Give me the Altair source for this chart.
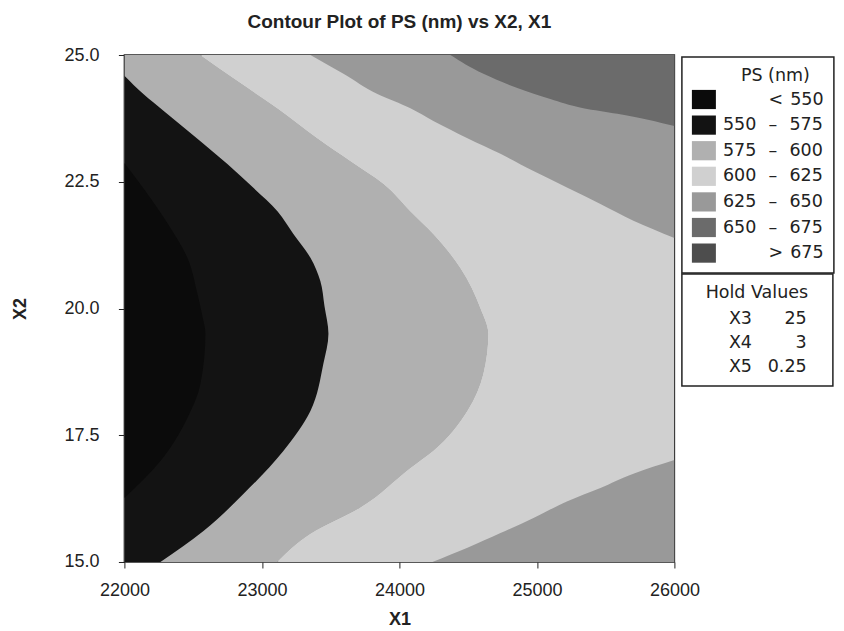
import altair as alt
import pandas as pd

# ---- contour boundaries: X1 position of each contour line at a given X2
b550_x2 = [16.26, 16.99, 17.84, 18.51, 19.50, 19.85, 20.29, 21.00, 21.59, 22.18, 22.87]
b550_x1 = [22000, 22262, 22458, 22553, 22589, 22567, 22531, 22458, 22335, 22189, 22000]

b575_x2 = [15.00, 15.61, 16.34, 17.19, 17.98, 18.91, 19.50, 20.05, 20.54, 21.00, 21.47,
           21.92, 22.38, 22.85, 23.30, 23.90, 24.23, 24.59]
b575_x1 = [22262, 22575, 22865, 23156, 23353, 23447, 23484, 23455, 23425, 23353, 23229,
           23113, 22938, 22749, 22553, 22284, 22138, 22000]

b600_x2 = [15.00, 15.55, 16.07, 16.85, 17.19, 17.98, 18.71, 19.50, 20.01, 20.80, 21.47,
           21.92, 22.46, 22.91, 23.36, 23.95, 24.49, 25.00]
b600_x1 = [23113, 23353, 23716, 24080, 24247, 24495, 24611, 24647, 24589, 24444, 24247,
           24080, 23884, 23644, 23404, 23113, 22822, 22553]

b625top_x2 = [21.39, 21.73, 22.06, 22.38, 22.71, 23.05, 23.36, 23.70, 23.95, 24.23, 24.63, 25.00]
b625top_x1 = [26000, 25702, 25462, 25222, 24975, 24735, 24495, 24247, 24080, 23840, 23593, 23353]

b650_x2 = [23.60, 23.84, 23.95, 24.13, 24.35, 24.63, 25.00]
b650_x1 = [26000, 25585, 25338, 25098, 24858, 24611, 24371]

b625bot_x2 = [15.00, 15.28, 15.57, 15.87, 16.20, 16.46, 16.74, 17.01]
b625bot_x1 = [24240, 24495, 24735, 24975, 25222, 25462, 25702, 26000]

# ---- legend content
cuts = [550, 575, 600, 625, 650, 675]
grays = ["#0b0b0b", "#131313", "#b0b0b0", "#d0d0d0", "#999999", "#6b6b6b", "#4d4d4d"]

hold_names = ["X3", "X4", "X5"]
hold_values = ["25", "3", "0.25"]

x1_ticks = [22000, 23000, 24000, 25000, 26000]
x2_ticks = [15.0, 17.5, 20.0, 22.5, 25.0]

FIG = "\u2007"; PUNC = "\u2008"; EN = "\u2002"; EM = "\u2003"; THIN = "\u2009"; HAIR = "\u200a"
ZW = "\u200b"  # keeps leading/trailing spaces from being trimmed

def range_label(a, b):
    return f"{a}{EN}{THIN}\u2013{EN}{THIN}{b}"

levels = [ZW + FIG * 3 + EN + THIN + "<" + THIN + THIN + str(cuts[0])]
for a, b in zip(cuts[:-1], cuts[1:]):
    levels.append(range_label(a, b))
levels.append(ZW + FIG * 3 + EN + THIN + ">" + THIN + THIN + str(cuts[-1]))

def pad_right(v):
    nd = sum(ch.isdigit() for ch in v)
    pre = FIG * (3 - nd) + ("" if "." in v else PUNC)
    return pre + v

hold_labels = [f"{n}{EN}{THIN}{THIN}{pad_right(v)}{EN}{THIN}{THIN}{ZW}"
               for n, v in zip(hold_names, hold_values)]

# ---- data tables
def boundary(x2, x1, level):
    return pd.DataFrame({"X2": x2, "X1": x1, "level": level})

LFONT = "DejaVu Sans"
LSIZE = 17.5
LEG_X = 557.5

color_scale = alt.Scale(domain=levels, range=grays)
color_legend = alt.Legend(
    title=ZW + EM + EM + "PS (nm)", orient="none", legendX=LEG_X, legendY=2, direction="vertical",
    padding=10, strokeColor="#222", fillColor="white",
    titleFont=LFONT, titleFontSize=LSIZE, titleFontWeight="normal", titleColor="#222",
    titleAnchor="middle", titlePadding=3,
    labelFont=LFONT, labelFontSize=LSIZE, labelColor="#222", labelOffset=7, labelLimit=400,
    symbolType="M-1,-0.8H1V0.8H-1Z", symbolSize=576, symbolStrokeWidth=0, rowPadding=3.6,
)

X = alt.X("X1:Q", stack=None, scale=alt.Scale(domain=[22000, 26000], nice=False, zero=False),
          axis=alt.Axis(values=x1_ticks, format="d", title="X1", labelPadding=14, titlePadding=11,
                        labelFlush=False, labelOverlap=False))
Y = alt.Y("X2:Q", scale=alt.Scale(domain=[15, 25], nice=False, zero=False),
          axis=alt.Axis(values=x2_ticks, format=".1f", title="X2", labelPadding=19.4,
                        titlePadding=34.6, labelFlush=False, labelOverlap=False))
X_plain = alt.X("X1:Q", stack=None)

def area(df, edge, first=False):
    return alt.Chart(df).mark_area(orient="horizontal", interpolate="monotone", opacity=1,
                                   clip=True).encode(
        y=Y if first else alt.Y("X2:Q"),
        x=X if first else X_plain,
        x2=alt.datum(edge),
        color=alt.Color("level:N", scale=color_scale, legend=color_legend if first else None),
    )

layers = [
    area(boundary(b600_x2, b600_x1, levels[3]), 26000, first=True),
    area(boundary(b600_x2, b600_x1, levels[2]), 22000),
    area(boundary(b575_x2, b575_x1, levels[1]), 22000),
    area(boundary(b550_x2, b550_x1, levels[0]), 22000),
    area(boundary(b625top_x2, b625top_x1, levels[4]), 26000),
    area(boundary(b650_x2, b650_x1, levels[5]), 26000),
    area(boundary(b625bot_x2, b625bot_x1, levels[4]), 26000),
]

hold_df = pd.DataFrame({"hold": hold_labels})
hold_layer = alt.Chart(hold_df).mark_point(opacity=0).encode(
    shape=alt.Shape("hold:N", scale=alt.Scale(domain=hold_labels),
                    legend=alt.Legend(
                        title="Hold Values", orient="none", legendX=LEG_X, legendY=219,
                        direction="vertical", padding=10, strokeColor="#222", fillColor="white",
                        titleFont=LFONT, titleFontSize=LSIZE, titleFontWeight="normal",
                        titleColor="#222", titleAnchor="middle", titlePadding=8.5,
                        labelFont=LFONT, labelFontSize=LSIZE, labelColor="#222",
                        labelOffset=19.5, labelLimit=400, symbolSize=4, symbolOpacity=0,
                        symbolStrokeWidth=0, rowPadding=5))
)

chart = alt.layer(*layers, hold_layer).resolve_legend(color="independent", shape="independent").properties(
    width=550, height=507,
    padding={"left": 2.4, "top": 4, "right": 0, "bottom": 0},
    title=alt.TitleParams("Contour Plot of PS (nm) vs X2, X1", font="Liberation Sans", fontSize=19,
                          fontWeight="bold", color="#222", anchor="middle", frame="group", offset=14.5),
).configure_view(stroke="#222", strokeWidth=1.5).configure_axis(
    labelFont="Liberation Sans", labelFontSize=18, labelColor="#222",
    titleFont="Liberation Sans", titleFontSize=18, titleFontWeight="bold", titleColor="#222",
    tickColor="#222", tickSize=6, domain=False, grid=False,
).configure_legend(strokeWidth=1.5)

chart.save("out.html", embed_options={"renderer": "svg", "actions": False})
